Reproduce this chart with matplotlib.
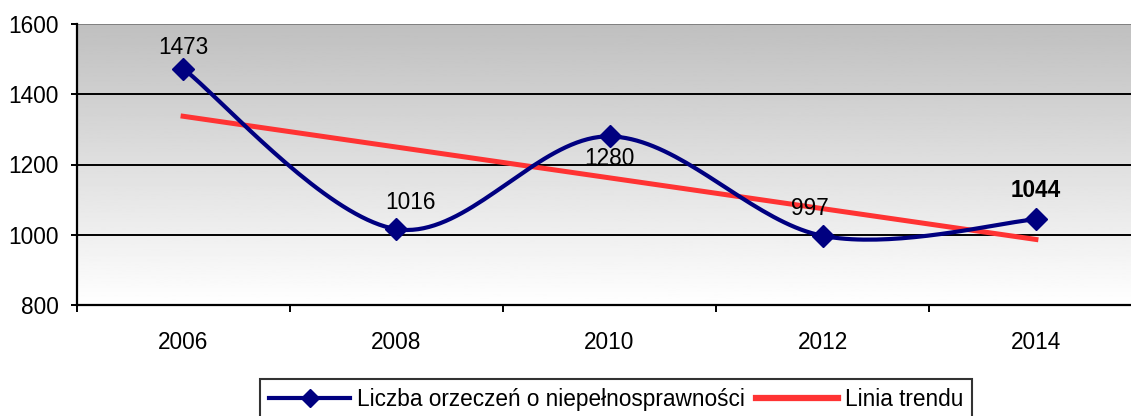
import matplotlib.pyplot as plt
import numpy as np
from matplotlib.lines import Line2D

years = ['2006', '2008', '2010', '2012', '2014']
values = [1473, 1016, 1280, 997, 1044]
series_name = 'Liczba orzeczeń o niepełnosprawności'
trend_name = 'Linia trendu'

plt.rcParams['font.family'] = ['Liberation Sans', 'DejaVu Sans']
FS = 16.3


# Excel-style smoothed line: cubic bezier through points (Catmull-Rom tangents)
def smooth(xs, ys, n=40):
    pts = np.column_stack([xs, ys]).astype(float)
    out = []
    for i in range(len(pts) - 1):
        p0 = pts[max(i - 1, 0)]
        p1 = pts[i]
        p2 = pts[i + 1]
        p3 = pts[min(i + 2, len(pts) - 1)]
        c1 = p1 + (p2 - p0) / 6.0
        c2 = p2 - (p3 - p1) / 6.0
        t = np.linspace(0, 1, n)[:, None]
        seg = ((1 - t) ** 3) * p1 + 3 * ((1 - t) ** 2) * t * c1 + 3 * (1 - t) * t ** 2 * c2 + t ** 3 * p2
        out.append(seg if i == 0 else seg[1:])
    out = np.vstack(out)
    return out[:, 0], out[:, 1]


x = np.arange(len(years))
sx, sy = smooth(x, values)
k, b = np.polyfit(x, values, 1)

fig = plt.figure(figsize=(11.31, 4.16), dpi=100)
ax = fig.add_axes([76.5 / 1131, 1 - 305 / 416, 1066 / 1131, 281 / 416])

# gradient background
grad = np.linspace(1.0, 0.75, 256)[:, None]
ax.imshow(grad, cmap='gray', vmin=0, vmax=1, aspect='auto',
          extent=(-0.5, 4.5, 800, 1600), origin='lower', zorder=0)

for yv in [1000, 1200, 1400]:
    ax.axhline(yv, color='black', lw=1.4, zorder=1)
ax.axhline(1600, color='#808080', lw=1.4, zorder=1)

ax.plot(sx, sy, color='#000080', lw=3, zorder=3)
ax.plot(x, values, linestyle='none', marker='D', markersize=11,
        color='#000080', zorder=4)
ax.plot(x, k * x + b, color='#ff3333', lw=3.6, zorder=2)

# label offsets in points (dx, dy)
offsets = [(0, 15), (10, 19), (0, -16), (-9, 20), (0, 21)]
for i, v in enumerate(values):
    ax.annotate(str(v), (x[i], v), xytext=offsets[i], textcoords='offset points',
                ha='center', va='center', fontsize=FS,
                fontweight='bold' if i == len(values) - 1 else 'normal')

ax.set_xlim(-0.5, 4.5)
ax.set_ylim(800, 1600)
ax.set_yticks([800, 1000, 1200, 1400, 1600])
ax.set_xticks(x)
ax.set_xticklabels(years)
ax.set_xticks(np.arange(-0.5, 5, 1), minor=True)
ax.tick_params(axis='x', which='major', length=0, pad=19, labelsize=FS)
ax.tick_params(axis='x', which='minor', length=5, width=1.4, direction='out')
ax.tick_params(axis='y', length=4, width=1.4, pad=9, labelsize=FS)
for s in ['top', 'right']:
    ax.spines[s].set_visible(False)
for s in ['left', 'bottom']:
    ax.spines[s].set_linewidth(1.6)
    ax.spines[s].set_zorder(5)

h1 = Line2D([], [], color='#000080', lw=3, marker='D', markersize=9)
h2 = Line2D([], [], color='#ff3333', lw=4.5)
leg = fig.legend([h1, h2], [series_name, trend_name], loc='upper center',
                 bbox_to_anchor=(0.5447, 1 - 379 / 416), ncol=2, fontsize=FS,
                 frameon=True, fancybox=False, handlelength=3.6,
                 handletextpad=0.3, columnspacing=0.5, borderpad=0.4,
                 borderaxespad=0)
leg.get_frame().set_edgecolor('black')
leg.get_frame().set_linewidth(1.5)

fig.savefig('out.png', dpi=100)
